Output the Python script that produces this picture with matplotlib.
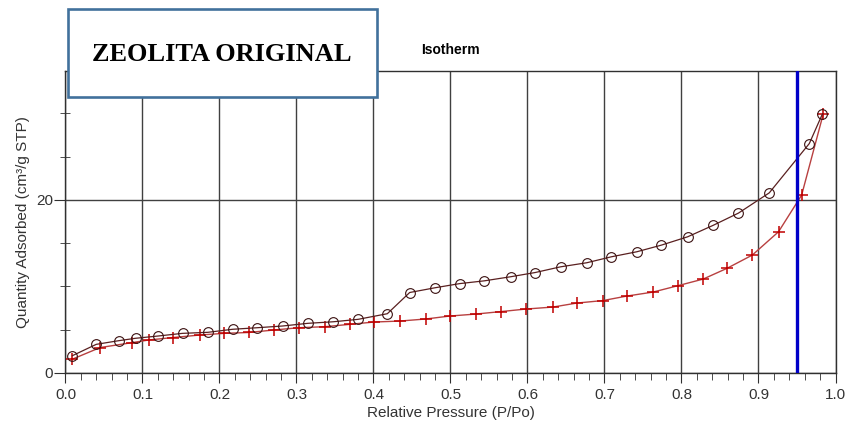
import matplotlib
matplotlib.use("Agg")
import matplotlib.pyplot as plt
from matplotlib.ticker import MultipleLocator, FormatStrFormatter
from matplotlib.patches import Rectangle

# adsorption branch (crosses)
ads_p = [0.008, 0.045, 0.086, 0.108, 0.140, 0.175, 0.206, 0.238, 0.271, 0.303,
         0.337, 0.369, 0.401, 0.434, 0.468, 0.499, 0.533, 0.566, 0.598, 0.633,
         0.664, 0.698, 0.729, 0.763, 0.795, 0.828, 0.859, 0.892, 0.926, 0.956, 0.984]
ads_q = [1.56, 2.94, 3.50, 3.81, 4.10, 4.39, 4.58, 4.68, 4.97, 5.23,
         5.35, 5.62, 5.89, 6.00, 6.24, 6.58, 6.81, 7.10, 7.39, 7.62,
         8.08, 8.37, 8.89, 9.35, 10.08, 10.85, 12.09, 13.63, 16.32, 20.55, 29.9]

# desorption branch (circles)
des_p = [0.009, 0.040, 0.069, 0.091, 0.120, 0.152, 0.185, 0.217, 0.249, 0.282,
         0.315, 0.348, 0.380, 0.418, 0.447, 0.480, 0.512, 0.544, 0.578, 0.610,
         0.643, 0.677, 0.709, 0.742, 0.774, 0.808, 0.841, 0.874, 0.914, 0.966, 0.983]
des_q = [2.00, 3.31, 3.73, 4.01, 4.27, 4.58, 4.70, 5.05, 5.23, 5.43,
         5.74, 5.92, 6.20, 6.85, 9.30, 9.85, 10.33, 10.65, 11.12, 11.61,
         12.27, 12.74, 13.43, 14.01, 14.78, 15.74, 17.06, 18.48, 20.82, 26.52, 29.94]

marker_p = 0.95

fig = plt.figure(figsize=(8.49, 4.25), dpi=100)
ax = fig.add_axes([0.0771, 0.1224, 0.9070, 0.7105])

ax.plot(ads_p, ads_q, color="#b84040", lw=1.0, marker="+", ms=8,
        mec="#c00000", mew=1.1, zorder=3)
ax.plot(des_p, des_q, color="#5a2020", lw=0.9, marker="o", ms=7,
        mfc="none", mec="#3a1010", mew=0.8, zorder=4)

ax.axvline(marker_p, color="#0000c8", lw=2.4, zorder=5)

ax.set_xlim(0, 1.0)
ax.set_ylim(0, 34.9)
ax.xaxis.set_major_locator(MultipleLocator(0.1))
ax.xaxis.set_minor_locator(MultipleLocator(0.02))
ax.xaxis.set_major_formatter(FormatStrFormatter("%.1f"))
ax.yaxis.set_major_locator(MultipleLocator(20))
ax.yaxis.set_minor_locator(MultipleLocator(5))

ax.grid(True, which="major", color="#404040", lw=1.0)
ax.set_axisbelow(True)

for s in ax.spines.values():
    s.set_color("#303030")
    s.set_linewidth(1.0)

ax.tick_params(axis="x", which="major", direction="out", length=7,
               labelsize=11, labelcolor="#333333", color="#303030")
ax.tick_params(axis="x", which="minor", direction="out", length=5, color="#303030")
ax.tick_params(axis="y", which="major", direction="out", length=8,
               labelsize=11, labelcolor="#333333", color="#303030", pad=1)
ax.tick_params(axis="y", which="minor", direction="inout", length=7, color="#303030")

ax.set_xlabel("Relative Pressure (P/Po)", fontsize=11, color="#333333",
              family="Liberation Sans", labelpad=3)
ax.set_ylabel("Quantity Adsorbed (cm³/g STP)", fontsize=11, color="#333333",
              family="Liberation Sans", labelpad=4)
for lab in ax.get_xticklabels() + ax.get_yticklabels():
    lab.set_family("Liberation Sans")

fig.text(0.53, 0.882, "Isotherm", ha="center", va="center", fontsize=10,
         fontweight="bold", family="Liberation Sans")

box = Rectangle((0.080, 0.772), 0.364, 0.207, transform=fig.transFigure,
                facecolor="white", edgecolor="#41719c", lw=1.9, zorder=10)
fig.patches.append(box)
fig.text(0.2615, 0.871, "ZEOLITA ORIGINAL", ha="center", va="center",
         fontsize=19, fontweight="bold", family="Liberation Serif", zorder=11)

fig.savefig("out.png", dpi=100)
